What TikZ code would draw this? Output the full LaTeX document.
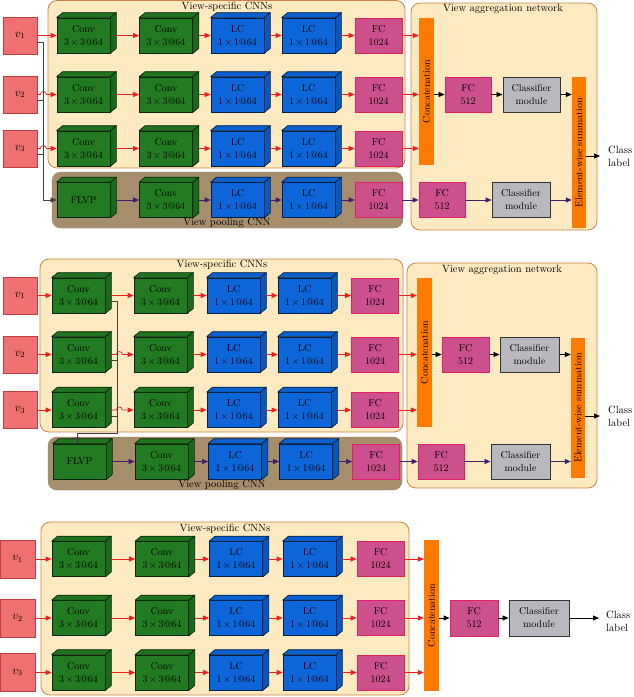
\documentclass[tikz,border=0pt]{standalone}
\usepackage{amsmath}
\usetikzlibrary{arrows.meta,positioning}
\definecolor{vcol}{RGB}{238,112,112}
\definecolor{vline}{RGB}{188,62,62}
\definecolor{convcol}{RGB}{34,122,34}
\definecolor{lccol}{RGB}{12,102,218}
\definecolor{fccol}{RGB}{204,80,140}
\definecolor{fcline}{RGB}{224,32,96}
\definecolor{clscol}{RGB}{184,184,190}
\definecolor{barcol}{RGB}{255,122,0}
\definecolor{panelcol}{RGB}{253,234,192}
\definecolor{panelline}{RGB}{202,132,72}
\definecolor{poolcol}{RGB}{166,142,108}
\definecolor{redarr}{RGB}{236,32,28}
\definecolor{purarr}{RGB}{62,30,110}
\newcommand{\convtxt}{Conv\\$3\,{\times}\,3$@64}
\newcommand{\lctxt}{LC\\$1\,{\times}\,1$@64}
% 3-D layer block: name, position, colour, label
\newcommand{\cnnblock}[4]{%
  \node[blk=#3] (#1) at (#2) {#4};
  \draw[face=#3] (#1.north west) -- ([shift={(6pt,5pt)}]#1.north west)
    -- ([shift={(6pt,5pt)}]#1.north east) -- (#1.north east) -- cycle;
  \draw[face=#3,fill=#3!85!black] (#1.north east) -- ([shift={(6pt,5pt)}]#1.north east)
    -- ([shift={(6pt,5pt)}]#1.south east) -- (#1.south east) -- cycle;
}

\begin{document}
\begin{tikzpicture}[x=1pt, y=-1pt, font=\fontsize{10}{13}\selectfont,
  >={Triangle[length=6pt,width=5pt]},
  vin/.style={draw=vline, fill=vcol, line width=0.7pt, minimum width=34pt, minimum height=37pt, inner sep=0pt, font=\fontsize{11.5}{12}\selectfont},
  blk/.style={draw=#1!30!black, fill=#1, line width=0.7pt, minimum width=53pt, minimum height=35pt, inner sep=0pt, align=center},
  face/.style={draw=#1!30!black, fill=#1!95!black, line width=0.7pt, line join=round},
  fc/.style={draw=fcline, fill=fccol, line width=0.7pt, minimum width=47pt, minimum height=35pt, inner sep=0pt, align=center},
  cls/.style={draw=black!80, fill=clscol, line width=1pt, minimum width=57pt, minimum height=35pt, inner sep=0pt, align=center},
  bar/.style={fill=barcol, rotate=90, minimum height=15pt, inner sep=0pt},
  panel/.style={draw=panelline, fill=panelcol, line width=0.8pt, rounded corners=9pt},
  pool/.style={draw=poolcol!90!black, fill=poolcol, rounded corners=9pt},
  title/.style={font=\fontsize{10.5}{12}\selectfont, inner sep=1pt},
  lbl/.style={anchor=west, align=left, inner xsep=8pt, font=\fontsize{10.5}{13}\selectfont},
  ra/.style={->, draw=redarr, line width=0.7pt},
  ra3/.style={ra, shorten <=6pt},
  pa/.style={->, draw=purarr, line width=0.7pt},
  pa3/.style={pa, shorten <=6pt},
  ka/.style={->, draw=black, line width=0.7pt},
  bus/.style={draw=black!75, line width=0.6pt},
]
\useasboundingbox (0,0) rectangle (634,697);

% ---------- panel 1: pooling fed by the inputs ----------
\draw[panel] (48,0.5) rectangle (405,168);
\draw[pool] (52,172) rectangle (403,228);
\draw[panel] (411,3) rectangle (597,230);
\node[title] (p1-t1) at (227,7) {View-specific CNNs};
\node[title] (p1-t2) at (227,223) {View pooling CNN};
\node[title] (p1-t3) at (503,9) {View aggregation network};

\foreach \r/\y in {1/35.5,2/94.5,3/148.5}{
  \node[vin] (p1-v\r) at (20,\y) {$v_{\r}$};
  \cnnblock{p1-cA\r}{83.5,\y}{convcol}{\convtxt}
  \cnnblock{p1-cB\r}{166,\y}{convcol}{\convtxt}
  \cnnblock{p1-lA\r}{237.5,\y}{lccol}{\lctxt}
  \cnnblock{p1-lB\r}{308.5,\y}{lccol}{\lctxt}
  \node[fc] (p1-f\r) at (378.5,\y) {FC\\1024};
}
\cnnblock{p1-fl}{83.5,200}{convcol}{FLVP}
\cnnblock{p1-pc}{166,200}{convcol}{\convtxt}
\cnnblock{p1-pl1}{237.5,200}{lccol}{\lctxt}
\cnnblock{p1-pl2}{308.5,200}{lccol}{\lctxt}
\node[fc] (p1-pf) at (378.5,200) {FC\\1024};

\node[bar, minimum width=147pt] (p1-cat) at (426.5,91.5) {Concatenation};
\node[fc, minimum width=46pt] (p1-g) at (468,94.5) {FC\\512};
\node[cls] (p1-k) at (531.5,94.5) {Classifier\\module};
\node[bar, minimum width=151pt, minimum height=14pt] (p1-sum) at (579,152.5) {Element-wise summation};
\node[fc, minimum width=46pt] (p1-pg) at (442,200) {FC\\512};
\node[cls, minimum width=58pt] (p1-pk) at (521,200) {Classifier\\module};
\node[lbl] (p1-lbl) at (600,156) {Class\\label};

\draw[ra] (p1-v1) -- (p1-cA1);
\foreach \r in {2,3}
  \draw[ra] (p1-v\r.east) -- ++(3pt,0) arc[start angle=180,end angle=0,radius=3pt] -- (p1-cA\r.west);
\draw[bus,->] ([yshift=-7pt]p1-v1.east) -- ++(6pt,0) |- (p1-fl.west);
\foreach \r in {2,3}
  \draw[bus] ([yshift=-6pt]p1-v\r.east) -- ++(6pt,0);
\foreach \r in {1,2,3}{
  \draw[ra3] (p1-cA\r) -- (p1-cB\r);
  \draw[ra3] (p1-cB\r) -- (p1-lA\r);
  \draw[ra3] (p1-lA\r) -- (p1-lB\r);
  \draw[ra3] (p1-lB\r) -- (p1-f\r);
  \draw[ra] (p1-f\r) -- (p1-cat.north |- p1-f\r);
}
\draw[pa3] (p1-fl) -- (p1-pc);
\draw[pa3] (p1-pc) -- (p1-pl1);
\draw[pa3] (p1-pl1) -- (p1-pl2);
\draw[pa3] (p1-pl2) -- (p1-pf);
\draw[pa] (p1-pf) -- (p1-pg);
\draw[pa] (p1-pg) -- (p1-pk);
\draw[pa] (p1-pk) -- (p1-sum.north |- p1-pk);
\draw[ka] (p1-cat.south |- p1-g) -- (p1-g);
\draw[ka] (p1-g) -- (p1-k);
\draw[ka] (p1-k) -- (p1-sum.north |- p1-k);
\draw[ka] (p1-sum.south |- p1-lbl) -- (p1-lbl.west);

% ---------- panel 2: pooling fed by the first conv ----------
\draw[panel] (40,259) rectangle (403,432);
\draw[pool] (48,437) rectangle (402,490);
\draw[panel] (407,263) rectangle (597,488);
\node[title] (p2-t1) at (222,265) {View-specific CNNs};
\node[title] (p2-t2) at (222,485) {View pooling CNN};
\node[title] (p2-t3) at (502,270) {View aggregation network};

\foreach \r/\y in {1/295.5,2/354.5,3/410}{
  \node[vin] (p2-v\r) at (20,\y) {$v_{\r}$};
  \cnnblock{p2-cA\r}{78.5,\y}{convcol}{\convtxt}
  \cnnblock{p2-cB\r}{160.5,\y}{convcol}{\convtxt}
  \cnnblock{p2-lA\r}{233.5,\y}{lccol}{\lctxt}
  \cnnblock{p2-lB\r}{304.5,\y}{lccol}{\lctxt}
  \node[fc] (p2-f\r) at (375,\y) {FC\\1024};
}
\cnnblock{p2-fl}{79.5,461.5}{convcol}{FLVP}
\cnnblock{p2-pc}{161.5,461.5}{convcol}{\convtxt}
\cnnblock{p2-pl1}{235,461.5}{lccol}{\lctxt}
\cnnblock{p2-pl2}{306,461.5}{lccol}{\lctxt}
\node[fc] (p2-pf) at (376,461.5) {FC\\1024};

\node[bar, minimum width=149pt] (p2-cat) at (424.5,352.5) {Concatenation};
\node[fc] (p2-g) at (465.5,354.5) {FC\\512};
\node[cls, minimum width=59pt] (p2-k) at (529.5,354.5) {Classifier\\module};
\node[bar, minimum width=140pt, minimum height=14pt] (p2-sum) at (578,408) {Element-wise summation};
\node[fc, minimum width=46pt] (p2-pg) at (441,461.5) {FC\\512};
\node[cls, minimum width=59pt] (p2-pk) at (520.5,461.5) {Classifier\\module};
\node[lbl] (p2-lbl) at (600,416) {Class\\label};
\coordinate (p2-turn) at (117,433);

\draw[ra3] (p2-cA1) -- (p2-cB1);
\foreach \r in {2,3}
  \draw[ra] ([xshift=6pt]p2-cA\r.east) -- ++(5pt,0) arc[start angle=180,end angle=0,radius=3pt] -- (p2-cB\r.west);
\draw[bus,->] ([shift={(6pt,-6pt)}]p2-cA1.east) -| (p2-turn) -| ([xshift=-2pt]p2-fl.north);
\foreach \r in {2,3}
  \draw[bus] ([shift={(6pt,-6pt)}]p2-cA\r.east) -- ++(6pt,0);
\foreach \r in {1,2,3}{
  \draw[ra] (p2-v\r) -- (p2-cA\r);
  \draw[ra3] (p2-cB\r) -- (p2-lA\r);
  \draw[ra3] (p2-lA\r) -- (p2-lB\r);
  \draw[ra3] (p2-lB\r) -- (p2-f\r);
  \draw[ra] (p2-f\r) -- (p2-cat.north |- p2-f\r);
}
\draw[pa3] (p2-fl) -- (p2-pc);
\draw[pa3] (p2-pc) -- (p2-pl1);
\draw[pa3] (p2-pl1) -- (p2-pl2);
\draw[pa3] (p2-pl2) -- (p2-pf);
\draw[pa] (p2-pf) -- (p2-pg);
\draw[pa] (p2-pg) -- (p2-pk);
\draw[pa] (p2-pk) -- (p2-sum.north |- p2-pk);
\draw[ka] (p2-cat.south |- p2-g) -- (p2-g);
\draw[ka] (p2-g) -- (p2-k);
\draw[ka] (p2-k) -- (p2-sum.north |- p2-k);
\draw[ka] (p2-sum.south |- p2-lbl) -- (p2-lbl.west);

% ---------- panel 3: no pooling branch ----------
\draw[panel] (41,522) rectangle (409,695);
\node[title] (p3-t1) at (225,529) {View-specific CNNs};

\foreach \r/\y in {1/559,2/618,3/672.5}{
  \node[vin, minimum width=35pt, minimum height=38pt] (p3-v\r) at (17.5,\y) {$v_{\r}$};
  \cnnblock{p3-cA\r}{78.5,\y}{convcol}{\convtxt}
  \cnnblock{p3-cB\r}{162,\y}{convcol}{\convtxt}
  \cnnblock{p3-lA\r}{236,\y}{lccol}{\lctxt}
  \cnnblock{p3-lB\r}{309.5,\y}{lccol}{\lctxt}
  \node[fc] (p3-f\r) at (380.5,\y) {FC\\1024};
}
\node[bar, minimum width=151pt] (p3-cat) at (431.5,615.5) {Concatenation};
\node[fc, minimum width=48pt, minimum height=36pt] (p3-g) at (474,618) {FC\\512};
\node[cls, minimum width=60pt, minimum height=36pt] (p3-k) at (539,618) {Classifier\\module};
\node[lbl, inner xsep=7pt] (p3-lbl) at (599,621) {Class\\label};

\foreach \r in {1,2,3}{
  \draw[ra] (p3-v\r) -- (p3-cA\r);
  \draw[ra3] (p3-cA\r) -- (p3-cB\r);
  \draw[ra3] (p3-cB\r) -- (p3-lA\r);
  \draw[ra3] (p3-lA\r) -- (p3-lB\r);
  \draw[ra3] (p3-lB\r) -- (p3-f\r);
  \draw[ra] (p3-f\r) -- (p3-cat.north |- p3-f\r);
}
\draw[ka] (p3-cat.south |- p3-g) -- (p3-g);
\draw[ka] (p3-g) -- (p3-k);
\draw[ka] (p3-k) -- (p3-k -| p3-lbl.west);
\end{tikzpicture}
\end{document}
